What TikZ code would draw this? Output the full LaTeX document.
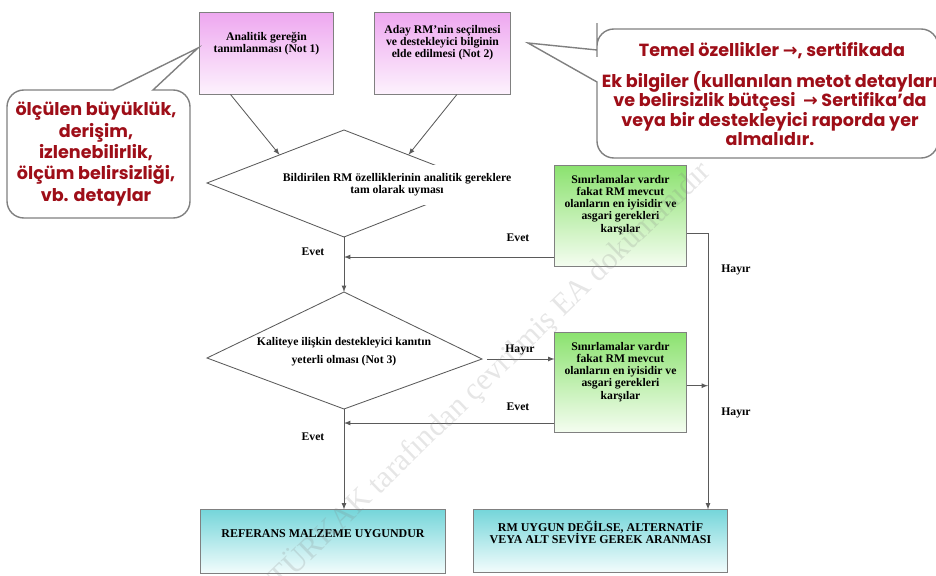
\documentclass[tikz,border=0pt]{standalone}
\usepackage{fontspec}
\setmainfont{Liberation Serif}
\newfontfamily\balloonfont{Poppins}
\newfontfamily\arrowfont{DejaVu Sans}
\usetikzlibrary{calc}

\definecolor{pinktop}{RGB}{238,168,240}
\definecolor{pinkbot}{RGB}{253,242,253}
\definecolor{greentop}{RGB}{140,226,112}
\definecolor{greenbot}{RGB}{244,253,240}
\definecolor{cyantop}{RGB}{118,214,218}
\definecolor{cyanbot}{RGB}{242,252,252}
\definecolor{framegray}{RGB}{128,128,128}
\definecolor{linegray}{RGB}{90,90,90}
\definecolor{notered}{RGB}{158,14,24}

\tikzset{
  box/.style={draw=framegray, line width=0.7pt, inner sep=0pt},
  pinkbox/.style={box, top color=pinktop, bottom color=pinkbot},
  greenbox/.style={box, top color=greentop, bottom color=greenbot},
  cyanbox/.style={box, top color=cyantop, bottom color=cyanbot},
  decision/.style={draw=linegray, line width=0.6pt},
  txt/.style={font=\bfseries\fontsize{8.3}{8.6}\selectfont, align=center, inner sep=0pt},
  captxt/.style={txt, font=\bfseries\fontsize{8.5}{8.6}\selectfont},
  lab/.style={font=\bfseries\fontsize{8.3}{9}\selectfont, inner sep=0pt},
  arr/.style={-latex, draw=linegray, line width=0.6pt},
  balloon/.style={draw=framegray, fill=white, line width=1pt},
  note/.style={font=\balloonfont\bfseries\fontsize{12.5}{15}\selectfont, text=notered, align=center, inner sep=0pt},
}

\begin{document}
\begin{tikzpicture}[x=0.025cm, y=-0.025cm]
\useasboundingbox (0,0) rectangle (936,576);
\clip (0,0) rectangle (936,576);

% input boxes
\node (tanim) [pinkbox, minimum width=3.325cm, minimum height=2.025cm] at (266.5,53.5) {};
\node (aday) [pinkbox, minimum width=3.375cm, minimum height=2.025cm] at (442.5,53.5) {};
\node (tanimT) [txt] at (266.5,44) {Analitik gereğin\\tanımlanması (Not 1)};
\node (adayT) [txt] at (442.5,43) {Aday RM'nin seçilmesi\\ve destekleyici bilginin\\elde edilmesi (Not 2)};

% first decision
\coordinate (bT) at (344,130);
\coordinate (bR) at (481,183);
\coordinate (bB) at (344,237);
\coordinate (bL) at (207,183);
\draw[decision] (bT) -- (bR) -- (bB) -- (bL) -- cycle;
\node (uyumT) [txt, fill=white, minimum width=5.75cm, minimum height=1cm] at (397,185)
  {Bildirilen RM özelliklerinin analitik gereklere\\tam olarak uyması};

% second decision
\coordinate (kT) at (344,292);
\coordinate (kR) at (482,359);
\coordinate (kB) at (344,409);
\coordinate (kL) at (207,358);
\draw[decision] (kT) -- (kR) -- (kB) -- (kL) -- cycle;
\node (kaliteT) [txt, font=\bfseries\fontsize{8.3}{12.8}\selectfont] at (344,352)
  {Kaliteye ilişkin destekleyici kanıtın\\yeterli olması (Not 3)};

% limitation boxes
\node (sinirA) [greenbox, minimum width=3.275cm, minimum height=2.5cm] at (620.5,216) {};
\node (sinirAT) [txt] at (620.5,205) {Sınırlamalar vardır\\fakat RM mevcut\\olanların en iyisidir ve\\asgari gerekleri\\karşılar};
\node (sinirB) [greenbox, minimum width=3.275cm, minimum height=2.475cm] at (620.5,382.5) {};
\node (sinirBT) [txt] at (620.5,372) {Sınırlamalar vardır\\fakat RM mevcut\\olanların en iyisidir ve\\asgari gerekleri\\karşılar};

% results
\node (uygun) [cyanbox, minimum width=6.1cm, minimum height=1.575cm] at (323,541.5) {};
\node (uygunT) [captxt] at (323,534) {REFERANS MALZEME UYGUNDUR};
\node (alt) [cyanbox, minimum width=6.325cm, minimum height=1.55cm] at (600.5,541) {};
\node (altT) [captxt] at (600.5,532.5) {RM UYGUN DEĞİLSE, ALTERNATİF\\VEYA ALT SEVİYE GEREK ARANMASI};

% connectors
\coordinate (rail) at (708,233);
\coordinate (evetA) at ([yshift=-1.025cm]sinirA.west);
\coordinate (evetB) at ([yshift=-1.0125cm]sinirB.west);
\coordinate (hayirB) at ([yshift=-0.08cm]sinirB.east);
\draw[arr] ([xshift=-0.9cm]tanim.south) -- ($(bL)!.53!(bT)$);
\draw[arr] ([xshift=0.36cm]aday.south) -- ($(bT)!.47!(bR)$);
\draw[arr] (bB) -- (kT);
\draw[arr] (evetA) -- (bB |- evetA);
\draw[arr] (sinirA.east |- rail) -- (rail) -- (rail |- alt.north);
\draw[arr] ([xshift=0.12cm]kR) -- (kR -| sinirB.west);
\draw[arr] (hayirB) -- (rail |- hayirB);
\draw[arr] (evetB) -- (kB |- evetB);
\draw[arr] (kB) -- (kB |- uygun.north);

\node (evet1) [lab] at (313,252) {Evet};
\node (evet2) [lab] at (518,238) {Evet};
\node (hayir1) [lab] at (520,350) {Hayır};
\node (evet3) [lab] at (518,407) {Evet};
\node (evet4) [lab] at (313,437) {Evet};
\node (hayir2) [lab] at (736,270) {Hayır};
\node (hayir3) [lab] at (736,413) {Hayır};

% speech balloons
\draw[balloon] (60,90) -- (113,90) -- (198,48) -- (153,90) [rounded corners=12pt]
  -- (190,90) -- (190,218) -- (7,218) -- (7,90) -- cycle;
\node (detayNot) [note, font=\balloonfont\bfseries\fontsize{12.5}{15.2}\selectfont] at (96,154)
  {ölçülen büyüklük,\\derişim,\\izlenebilirlik,\\ölçüm belirsizliği,\\vb. detaylar};

\draw[balloon] (597,40) -- (597,50) -- (528,43) -- (597,82) [rounded corners=12pt]
  -- (597,158) -- (938,158) -- (938,29) -- (597,29) -- cycle;
\node (temelNot) [note] at (772,51) {Temel özellikler {\arrowfont\bfseries →}, sertifikada};
\node (ekNot) [note, font=\balloonfont\bfseries\fontsize{12.5}{13.6}\selectfont] at (770,108.5)
  {Ek bilgiler (kullanılan metot detayları\\ve belirsizlik bütçesi \ {\arrowfont\bfseries →} Sertifika’da\\veya bir destekleyici raporda yer\\almalıdır.};

% watermark
\node (damga) [rotate=44, text=gray, opacity=0.2, font=\fontsize{22}{22}\selectfont] at (490,375)
  {TÜRKAK tarafından çevrilmiş EA dokümanıdır};
\end{tikzpicture}
\end{document}
